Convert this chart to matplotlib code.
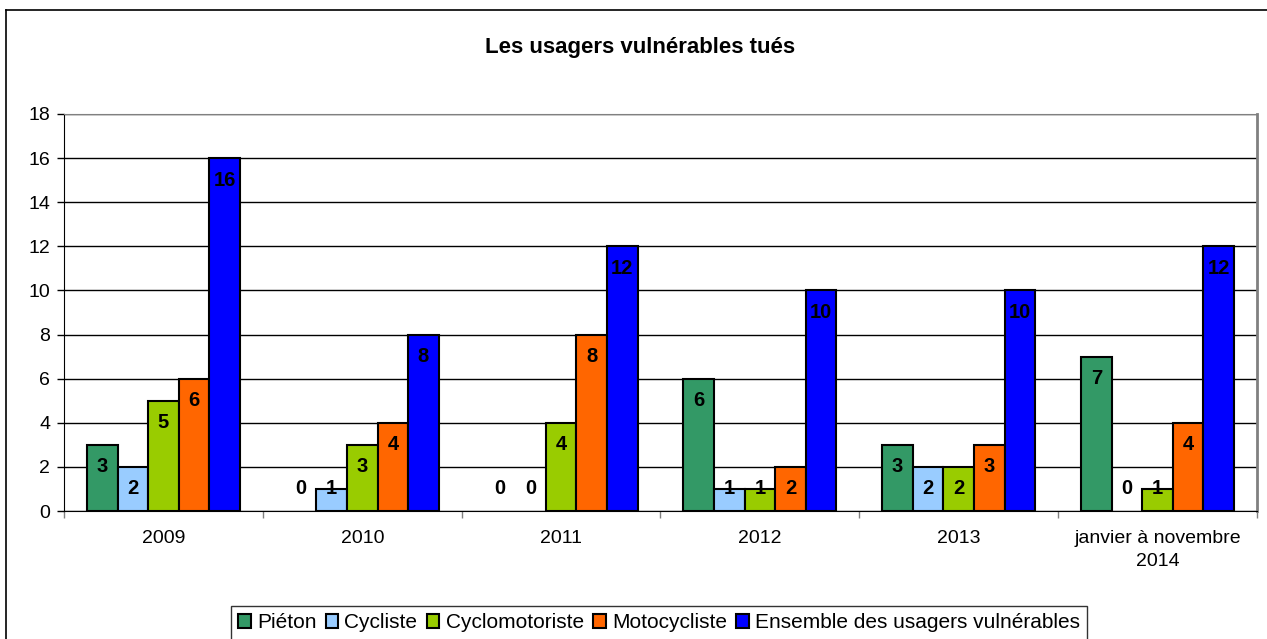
import matplotlib
matplotlib.use('Agg')
from matplotlib import pyplot as plt
from matplotlib.lines import Line2D
import numpy as np

plt.rcParams['font.family'] = ['Liberation Sans', 'DejaVu Sans']

annees = ['2009', '2010', '2011', '2012', '2013', 'janvier à novembre\n2014']
series = ['Piéton', 'Cycliste', 'Cyclomotoriste', 'Motocycliste',
          'Ensemble des usagers vulnérables']
pieton = [3, 0, 0, 6, 3, 7]
cycliste = [2, 1, 0, 1, 2, 0]
cyclomoteur = [5, 3, 4, 1, 2, 1]
moto = [6, 4, 8, 2, 3, 4]
ensemble = [16, 8, 12, 10, 10, 12]
couleurs = ['#339966', '#99CCFF', '#99CC00', '#FF6600', '#0000FF']

valeurs = [pieton, cycliste, cyclomoteur, moto, ensemble]

fig = plt.figure(figsize=(12.67, 6.39), dpi=100)
ax = fig.add_axes([64 / 1267, 1 - 511 / 639, (1257 - 64) / 1267, (511 - 114) / 639])

x = np.arange(len(annees))
w = 1 / 6.5
for i, (vals, c) in enumerate(zip(valeurs, couleurs)):
    pos = x + (i - 2) * w
    lw = [1.5 if v > 0 else 0 for v in vals]
    ax.bar(pos, vals, w, color=c, edgecolor='black', linewidth=lw, zorder=3)
    for p, v in zip(pos, vals):
        ax.text(p, max(v - 1, 1), str(v), ha='center', va='center',
                fontsize=14.5, fontweight='bold', zorder=4)

ax.set_xlim(-0.5, len(annees) - 0.5)
ax.set_ylim(0, 18)
ax.set_yticks(range(0, 19, 2))
ax.yaxis.grid(True, color='black', linewidth=1)
ax.set_axisbelow(True)
ax.tick_params(axis='y', labelsize=14, length=5, width=1, direction='out', pad=5)

ax.set_xticks(x)
ax.set_xticklabels(annees, fontsize=14, linespacing=1.45)
ax.tick_params(axis='x', length=0, pad=14)
ax.set_xticks(np.arange(-0.5, len(annees)), minor=True)
ax.tick_params(axis='x', which='minor', length=5, width=1, color='#808080')

ax.spines['left'].set_color('black')
ax.spines['bottom'].set_color('black')
ax.spines['top'].set_color('#808080')
ax.spines['right'].set_color('#808080')
ax.spines['right'].set_linewidth(2)

fig.text(0.505, 1 - 47 / 639, 'Les usagers vulnérables tués', ha='center',
         va='center', fontsize=16, fontweight='bold')

# cadre extérieur du graphique
fig.add_artist(Line2D([6 / 1267, 6 / 1267], [0, 1 - 10 / 639], color='black', linewidth=1.2))
fig.add_artist(Line2D([6 / 1267, 1], [1 - 10 / 639, 1 - 10 / 639], color='black', linewidth=1.2))

handles = [plt.Rectangle((0, 0), 1, 1, facecolor=c, edgecolor='black', linewidth=1.5)
           for c in couleurs]
leg = fig.legend(handles, series, loc='upper center', bbox_to_anchor=(659 / 1267, 1 - 606 / 639),
                 ncol=5, fontsize=15, frameon=True, fancybox=False,
                 handlelength=0.6, handleheight=0.6, handletextpad=0.3,
                 columnspacing=0.45, borderpad=0.35, borderaxespad=0)
leg.get_frame().set_edgecolor('black')
leg.get_frame().set_linewidth(1)

plt.savefig('out.png', dpi=100)
